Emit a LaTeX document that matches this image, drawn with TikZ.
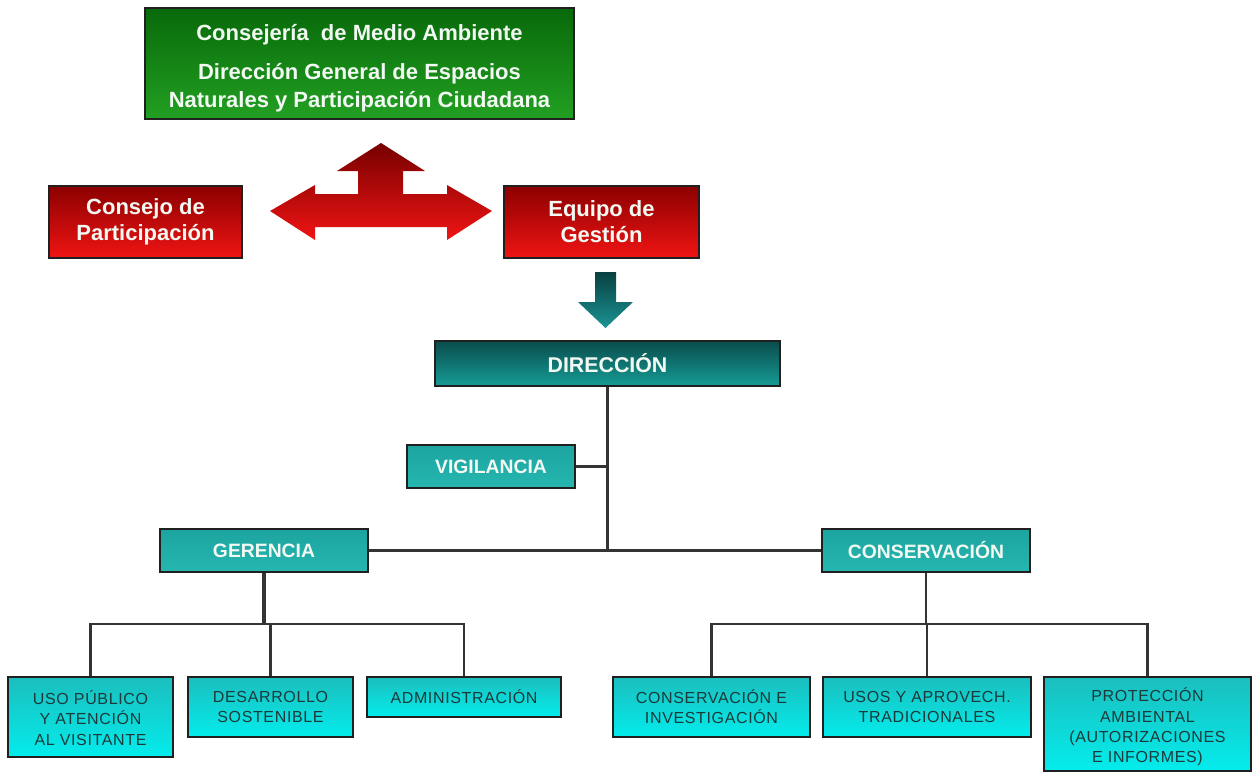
\documentclass[tikz,border=0pt]{standalone}
\usepackage{fontspec}
\setmainfont{Liberation Sans}
\newfontfamily\leaffont[LetterSpace=4]{Liberation Sans}
\definecolor{grnTop}{HTML}{08690A}
\definecolor{grnBot}{HTML}{22A022}
\definecolor{redTop}{HTML}{8C0000}
\definecolor{redBot}{HTML}{F01414}
\definecolor{tealDTop}{HTML}{0A4C4C}
\definecolor{tealDBot}{HTML}{169C96}
\definecolor{tealMTop}{HTML}{1CA4A0}
\definecolor{tealMBot}{HTML}{26B6B0}
\definecolor{cyanTop}{HTML}{1CBEBE}
\definecolor{cyanBot}{HTML}{04ECEC}
\definecolor{arrTealTop}{HTML}{0A4040}
\definecolor{arrTealBot}{HTML}{1A9494}
\definecolor{lineCol}{HTML}{333333}
\definecolor{edgeCol}{HTML}{202020}
\definecolor{lightTxt}{HTML}{F2F8F2}
\definecolor{leafTxt}{HTML}{1C3A3A}
\tikzset{
  boxbase/.style={draw=edgeCol, line width=1.1pt, inner sep=0pt, align=center},
  greenbox/.style={boxbase, top color=grnTop, bottom color=grnBot, text=lightTxt,
     font=\fontsize{16.5}{21}\selectfont\bfseries},
  redbox/.style={boxbase, top color=redTop, bottom color=redBot, text=lightTxt,
     font=\fontsize{16.5}{19.5}\selectfont\bfseries},
  dirbox/.style={boxbase, top color=tealDTop, bottom color=tealDBot, text=lightTxt,
     font=\fontsize{16}{18}\selectfont\bfseries},
  midbox/.style={boxbase, top color=tealMTop, bottom color=tealMBot, text=lightTxt,
     font=\fontsize{14.5}{17}\selectfont\bfseries},
  leafbox/.style={boxbase, top color=cyanTop, bottom color=cyanBot, text=leafTxt,
     font=\leaffont\fontsize{12}{15.2}\selectfont},
  link/.style={draw=lineCol, line width=1.6pt},
  boldlink/.style={draw=lineCol, line width=2.6pt}
}
\begin{document}
\begin{tikzpicture}[x=0.75pt, y=-0.75pt]
\useasboundingbox (0,0) rectangle (1257,774);
% top boxes
\node[greenbox, minimum width=429*0.75pt, minimum height=111*0.75pt] (cma) at (359.5,63.5)
  {\rule{0pt}{19pt}Consejería\ \ de Medio Ambiente\\[8pt]Dirección General de Espacios\\Naturales y Participación Ciudadana};
\node[redbox, minimum width=193*0.75pt, minimum height=72*0.75pt] (cp) at (145.5,222) {Consejo de\\Participación};
\node[redbox, minimum width=195*0.75pt, minimum height=72*0.75pt] (eg) at (601.5,222) {Equipo de\\Gestión};
% three-way red arrow
\shade[top color=redTop!85!black, bottom color=redBot, draw=none]
  (270,211) -- (315,185) -- (315,194) -- (358,194) -- (358,171) -- (337,171) -- (381,143)
  -- (425,171) -- (403,171) -- (403,194) -- (447,194) -- (447,185) -- (492,211)
  -- (447,240) -- (447,227) -- (315,227) -- (315,240) -- cycle;
% teal down arrow
\shade[top color=arrTealTop, bottom color=arrTealBot, draw=none]
  (595,272) -- (616,272) -- (616,302) -- (633,302) -- (605.5,328) -- (578,302) -- (595,302) -- cycle;
% organisation
\node[dirbox, minimum width=345*0.75pt, minimum height=45*0.75pt] (dir) at (607.5,363.5) {DIRECCIÓN};
\node[midbox, minimum width=168*0.75pt, minimum height=43*0.75pt] (vig) at (491,466.5) {VIGILANCIA};
\node[midbox, minimum width=208*0.75pt, minimum height=43*0.75pt] (ger) at (264,550.5) {GERENCIA};
\node[midbox, minimum width=208*0.75pt, minimum height=43*0.75pt] (con) at (926,550.5) {CONSERVACIÓN};
% leaves
\node[leafbox, minimum width=165*0.75pt, minimum height=80*0.75pt] (uso) at (90.5,717) {\rule{0pt}{12pt}USO PÚBLICO\\Y ATENCIÓN\\AL VISITANTE};
\node[leafbox, minimum width=165*0.75pt, minimum height=60*0.75pt] (des) at (270.5,707) {DESARROLLO\\SOSTENIBLE};
\node[leafbox, minimum width=194*0.75pt, minimum height=40*0.75pt] (adm) at (464,697) {ADMINISTRACIÓN};
\node[leafbox, minimum width=197*0.75pt, minimum height=60*0.75pt] (ci) at (711.5,707) {CONSERVACIÓN E\\INVESTIGACIÓN};
\node[leafbox, minimum width=208*0.75pt, minimum height=60*0.75pt] (ua) at (927,707) {USOS Y APROVECH.\\TRADICIONALES};
\node[leafbox, minimum width=207*0.75pt, minimum height=94*0.75pt] (pa) at (1147.5,724) {\rule{0pt}{15pt}PROTECCIÓN\\AMBIENTAL\\(AUTORIZACIONES\\E INFORMES)};
% junctions
\coordinate (dj) at (607.5,550.5);
\coordinate (gj) at (264,624);
\coordinate (cj) at (926,624);
% connectors
\draw[link] (dir.south) -- (dj);
\draw[link] (vig.east) -- (vig.east -| dir.south);
\draw[link] (ger.east) -- (con.west);
\draw[boldlink] (ger.south) -- (gj);
\draw[link] (uso.north) -- (uso.north |- gj) -- (adm.north |- gj) -- (adm.north);
\draw[link] (des.north) -- (des.north |- gj);
\draw[link] (con.south) -- (cj);
\draw[link] (ci.north) -- (ci.north |- cj) -- (pa.north |- cj) -- (pa.north);
\draw[link] (ua.north) -- (ua.north |- cj);
\end{tikzpicture}
\end{document}
